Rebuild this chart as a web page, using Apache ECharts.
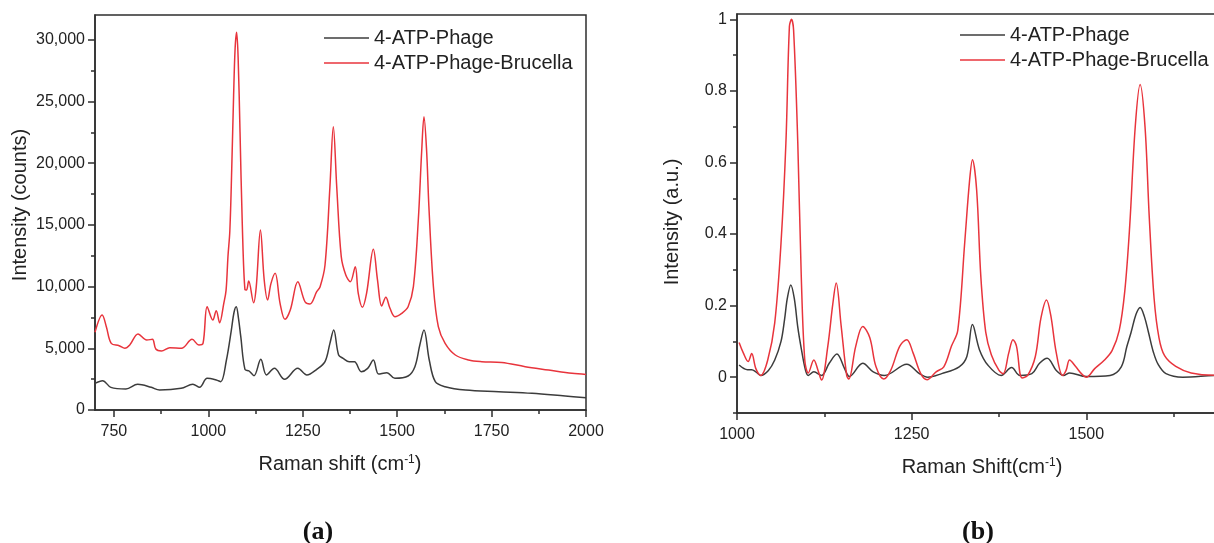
<!DOCTYPE html>
<html>
<head>
<meta charset="utf-8">
<title>SERS spectra</title>
<script src="https://cdn.jsdelivr.net/npm/echarts@6/dist/echarts.min.js"></script>
<style>
  html, body { margin: 0; padding: 0; background: #fff; }
  #chart { width: 1214px; height: 543px; }
</style>
</head>
<body>
<div id="chart"></div>
<script>
// (a) raw spectra, counts
const shiftPhageA = [700, 720, 742, 782, 813, 849, 871, 928, 959, 977, 997, 1021, 1033, 1048, 1061, 1068, 1074, 1080, 1086, 1097, 1108, 1121, 1139, 1154, 1175, 1202, 1237, 1261, 1287, 1309, 1322, 1332, 1345, 1357, 1373, 1387, 1405, 1422, 1437, 1451, 1473, 1494, 1529, 1547, 1560, 1571, 1585, 1601, 1627, 1681, 1769, 1857, 1945, 2000];
const countsPhageA = [2160, 2375, 1835, 1700, 2080, 1835, 1620, 1755, 2080, 1835, 2565, 2430, 2295, 4050, 6480, 7900, 8370, 7400, 5940, 3295, 3160, 2780, 4105, 2835, 3375, 2485, 3375, 2835, 3295, 3915, 5400, 6480, 4455, 4185, 3915, 3915, 3105, 3375, 4050, 2915, 3025, 2565, 2755, 3510, 5265, 6480, 4050, 2295, 1890, 1620, 1485, 1350, 1135, 1000];
const shiftBrucellaA = [700, 719, 730, 743, 764, 779, 792, 814, 837, 852, 861, 876, 898, 929, 957, 975, 986, 997, 1012, 1021, 1030, 1041, 1047, 1052, 1057, 1062, 1067, 1071, 1075, 1079, 1084, 1090, 1097, 1101, 1107, 1120, 1127, 1138, 1148, 1157, 1166, 1177, 1190, 1203, 1217, 1237, 1256, 1269, 1287, 1296, 1309, 1322, 1331, 1340, 1352, 1364, 1376, 1389, 1397, 1408, 1419, 1437, 1448, 1459, 1470, 1481, 1494, 1512, 1529, 1543, 1556, 1565, 1571, 1578, 1584, 1596, 1609, 1627, 1654, 1689, 1724, 1777, 1839, 1901, 1963, 2000];
const countsBrucellaA = [6300, 7700, 6750, 5400, 5210, 5000, 5265, 6156, 5670, 5725, 4940, 4780, 5050, 5000, 5725, 5265, 5400, 8370, 7290, 8045, 7075, 8640, 9690, 12420, 14500, 19500, 25500, 29300, 30600, 28500, 22500, 15000, 9750, 9720, 10450, 8690, 10000, 14580, 10530, 8910, 10260, 11070, 8640, 7345, 8100, 10390, 8770, 8590, 9585, 9990, 11745, 18090, 22950, 18090, 12420, 10935, 10390, 11610, 9450, 8320, 9450, 13015, 10530, 8425, 9130, 8240, 7560, 7830, 8370, 9990, 15390, 21000, 23760, 21000, 16500, 9990, 6750, 5400, 4455, 4050, 3915, 3850, 3510, 3240, 2970, 2880];

// (b) normalised spectra, a.u.
const shiftPhageB = [1003, 1015, 1021, 1027, 1034, 1045, 1054, 1063, 1068, 1072, 1077, 1082, 1087, 1092, 1098, 1102, 1110, 1121, 1132, 1143, 1154, 1161, 1180, 1195, 1211, 1243, 1261, 1273, 1293, 1318, 1329, 1337, 1347, 1359, 1378, 1393, 1405, 1422, 1433, 1444, 1457, 1468, 1476, 1500, 1534, 1550, 1558, 1564, 1571, 1577, 1583, 1589, 1596, 1603, 1614, 1638, 1690, 1750];
const normPhageB = [0.034, 0.021, 0.021, 0.015, 0.005, 0.019, 0.048, 0.10, 0.16, 0.22, 0.258, 0.22, 0.14, 0.08, 0.02, 0.005, 0.015, 0.005, 0.039, 0.065, 0.024, 0.002, 0.039, 0.015, 0.005, 0.036, 0.010, 0.0, 0.010, 0.029, 0.058, 0.147, 0.077, 0.034, 0.005, 0.027, 0.005, 0.010, 0.039, 0.053, 0.019, 0.005, 0.012, 0.002, 0.005, 0.029, 0.086, 0.125, 0.175, 0.195, 0.17, 0.125, 0.07, 0.035, 0.010, 0.0, 0.005, 0.005];
const shiftBrucellaB = [1003, 1009, 1016, 1021, 1027, 1034, 1044, 1054, 1063, 1070, 1075, 1078, 1081, 1087, 1092, 1097, 1102, 1110, 1116, 1121, 1130, 1137, 1142, 1149, 1157, 1160, 1170, 1180, 1190, 1199, 1210, 1220, 1233, 1243, 1252, 1263, 1272, 1285, 1296, 1307, 1316, 1326, 1333, 1337, 1343, 1349, 1356, 1364, 1375, 1381, 1389, 1395, 1400, 1408, 1416, 1427, 1435, 1443, 1449, 1457, 1466, 1471, 1476, 1485, 1493, 1500, 1512, 1526, 1537, 1547, 1555, 1562, 1570, 1577, 1584, 1590, 1597, 1604, 1612, 1628, 1650, 1690, 1750];
const normBrucellaB = [0.097, 0.068, 0.044, 0.066, 0.024, 0.005, 0.048, 0.152, 0.375, 0.655, 0.98, 1.0, 0.97, 0.655, 0.281, 0.048, 0.012, 0.048, 0.019, -0.008, 0.087, 0.203, 0.263, 0.145, 0.005, -0.005, 0.087, 0.142, 0.111, 0.029, -0.005, 0.019, 0.087, 0.105, 0.068, 0.010, -0.007, 0.015, 0.029, 0.087, 0.131, 0.378, 0.552, 0.608, 0.523, 0.281, 0.126, 0.063, 0.019, 0.010, 0.068, 0.105, 0.087, -0.002, 0.005, 0.058, 0.165, 0.216, 0.174, 0.068, 0.005, 0.019, 0.048, 0.029, 0.010, 0.0, 0.024, 0.048, 0.075, 0.13, 0.24, 0.42, 0.70, 0.818, 0.70, 0.45, 0.22, 0.11, 0.06, 0.03, 0.012, 0.005, 0.005];

// ticks
const majorXA = [750, 1000, 1250, 1500, 1750, 2000];
const minorXA = [875, 1125, 1375, 1625, 1875];
const majorYA = [0, 5000, 10000, 15000, 20000, 25000, 30000];
const minorYA = [2500, 7500, 12500, 17500, 22500, 27500];
const majorXB = [1000, 1250, 1500, 1750];
const minorXB = [1125, 1375, 1625];
const majorYB = [0, 0.2, 0.4, 0.6, 0.8, 1];
const minorYB = [-0.1, 0.1, 0.3, 0.5, 0.7, 0.9];

const names = ['4-ATP-Phage', '4-ATP-Phage-Brucella'];

const FONT = 'Liberation Sans, Arial, sans-serif';
const INK = '#2e2e2e';
const GREY = '#3c3c3c';
const RED = '#e8343c';

function pairs(xs, ys) {
  return xs.map((x, i) => [x, ys[i]]);
}

// main axis (line, major ticks, labels) + overlay axis for the minor ticks
function axisPair(dim, gridIndex, min, max, major, minor, fmt) {
  const base = {
    type: 'value', gridIndex, min, max,
    position: dim === 'x' ? 'bottom' : 'left',
    splitLine: { show: false }
  };
  return [
    Object.assign({}, base, {
      axisLine: { show: true, onZero: false, lineStyle: { color: INK, width: 1.5 } },
      axisTick: { show: true, customValues: major, length: 7, lineStyle: { color: INK, width: 1.5 } },
      axisLabel: {
        customValues: major, formatter: fmt, margin: dim === 'x' ? 14 : 10,
        fontSize: 16, color: '#222', fontFamily: FONT
      }
    }),
    Object.assign({}, base, {
      axisLine: { show: false, onZero: false },
      axisTick: { show: true, customValues: minor, length: 4, lineStyle: { color: INK, width: 1.5 } },
      axisLabel: { show: false }
    })
  ];
}

const fmtComma = v => v.toLocaleString('en-US');
const fmtPlain = v => String(v);

const legendBase = {
  data: names, orient: 'vertical', icon: 'rect', padding: 0,
  itemWidth: 45, itemHeight: 1.5, itemGap: 5,
  textStyle: { fontSize: 20, color: '#222', fontFamily: FONT }
};

const chart = echarts.init(document.getElementById('chart'));

chart.setOption({
  animation: false,
  backgroundColor: '#fff',
  grid: [
    { left: 95, top: 15, width: 491, height: 395, show: true, borderColor: INK, borderWidth: 1.5, outerBoundsMode: 'none' },
    { left: 737, top: 14, width: 524, height: 399, show: true, borderColor: INK, borderWidth: 1.5, outerBoundsMode: 'none' }
  ],
  xAxis: [
    ...axisPair('x', 0, 700, 2000, majorXA, minorXA, fmtPlain),
    ...axisPair('x', 1, 1000, 1750, majorXB, minorXB, fmtPlain)
  ],
  yAxis: [
    ...axisPair('y', 0, 0, 32000, majorYA, minorYA, fmtComma),
    ...axisPair('y', 1, -0.1, 1.015, majorYB, minorYB, fmtPlain)
  ],
  legend: [
    Object.assign({}, legendBase, { left: 324, top: 28 }),
    Object.assign({}, legendBase, { left: 960, top: 25 })
  ],
  graphic: [
    { type: 'text', x: 20, y: 205, rotation: Math.PI / 2,
      style: { text: 'Intensity (counts)', fontSize: 20, fontFamily: FONT, fill: '#222', align: 'center', verticalAlign: 'middle' } },
    { type: 'text', x: 340, y: 464,
      style: { text: 'Raman shift (cm{sup|-1})', fontSize: 20, fontFamily: FONT, fill: '#222', align: 'center', verticalAlign: 'middle',
        rich: { sup: { fontSize: 12, fontFamily: FONT, fill: '#222', verticalAlign: 'top' } } } },
    { type: 'text', x: 672, y: 222, rotation: Math.PI / 2,
      style: { text: 'Intensity (a.u.)', fontSize: 20, fontFamily: FONT, fill: '#222', align: 'center', verticalAlign: 'middle' } },
    { type: 'text', x: 982, y: 467,
      style: { text: 'Raman Shift(cm{sup|-1})', fontSize: 20, fontFamily: FONT, fill: '#222', align: 'center', verticalAlign: 'middle',
        rich: { sup: { fontSize: 12, fontFamily: FONT, fill: '#222', verticalAlign: 'top' } } } },
    { type: 'text', x: 318, y: 532,
      style: { text: '(a)', font: 'bold 26px "Liberation Serif", serif', fill: '#111', align: 'center', verticalAlign: 'middle' } },
    { type: 'text', x: 978, y: 532,
      style: { text: '(b)', font: 'bold 26px "Liberation Serif", serif', fill: '#111', align: 'center', verticalAlign: 'middle' } }
  ],
  series: [
    { name: names[0], type: 'line', xAxisIndex: 0, yAxisIndex: 0, data: pairs(shiftPhageA, countsPhageA),
      symbol: 'none', smooth: 0.35, lineStyle: { color: GREY, width: 1.5 }, itemStyle: { color: GREY } },
    { name: names[1], type: 'line', xAxisIndex: 0, yAxisIndex: 0, data: pairs(shiftBrucellaA, countsBrucellaA),
      symbol: 'none', smooth: 0.35, lineStyle: { color: RED, width: 1.5 }, itemStyle: { color: RED } },
    { name: names[0], type: 'line', xAxisIndex: 2, yAxisIndex: 2, data: pairs(shiftPhageB, normPhageB),
      symbol: 'none', smooth: 0.35, lineStyle: { color: GREY, width: 1.5 }, itemStyle: { color: GREY } },
    { name: names[1], type: 'line', xAxisIndex: 2, yAxisIndex: 2, data: pairs(shiftBrucellaB, normBrucellaB),
      symbol: 'none', smooth: 0.35, lineStyle: { color: RED, width: 1.5 }, itemStyle: { color: RED } }
  ]
});
</script>
</body>
</html>
